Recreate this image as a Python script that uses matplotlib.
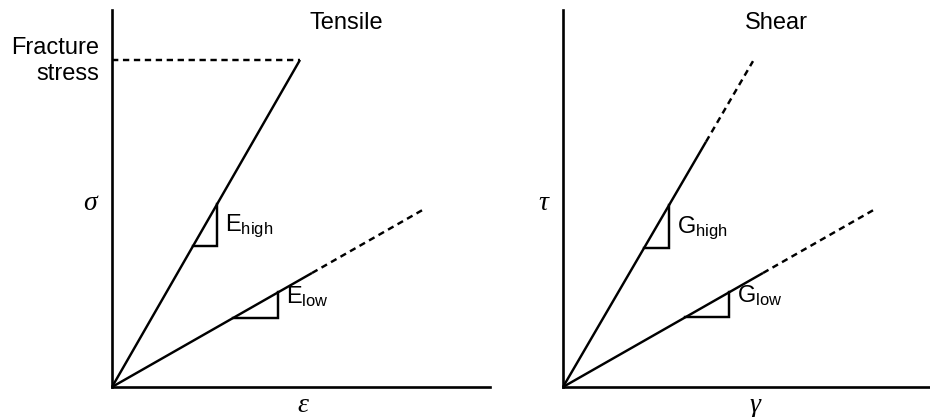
import matplotlib.pyplot as plt

plt.rcParams['font.family'] = ['Liberation Sans', 'DejaVu Sans']
plt.rcParams['mathtext.fontset'] = 'custom'
plt.rcParams['mathtext.rm'] = 'Liberation Sans'
plt.rcParams['mathtext.it'] = 'Liberation Sans:italic'

# moduli (slopes) for the two panels
tensile_moduli = [1.74, 0.57]
shear_moduli = [1.715, 0.57]

# strain where each line stops being solid, and where its dashed part ends
tensile_solid_end = [188, 200]
tensile_dash_end = [188, 310]
shear_solid_end = [143, 200]
shear_dash_end = [190, 310]

# slope triangles: strain range under each line
tensile_tri = [(81, 105), (121, 166)]
shear_tri = [(81, 106), (122, 166)]

fracture_strain = 188

W, H = 930, 417
fig = plt.figure(figsize=(W / 100, H / 100), dpi=100)

def make_axes(x0, x1, y0, y1):
    ax = fig.add_axes([x0 / W, (H - y0) / H, (x1 - x0) / W, (y0 - y1) / H])
    ax.set_xlim(0, x1 - x0)
    ax.set_ylim(0, y0 - y1)
    for s in ['top', 'right']:
        ax.spines[s].set_visible(False)
    for s in ['left', 'bottom']:
        ax.spines[s].set_linewidth(1.9)
    ax.set_xticks([])
    ax.set_yticks([])
    ax.patch.set_alpha(0)
    return ax

lw = 1.75
dash = (0, (2.6, 1.9))
fs = 17

def draw_panel(ax, moduli, solid_end, dash_end, tris, labels):
    for m, xs, xd, (ta, tb), lab in zip(moduli, solid_end, dash_end, tris, labels):
        ax.plot([0, xs], [0, m * xs], color='black', lw=lw, clip_on=False,
                solid_capstyle='butt')
        if xd > xs:
            ax.plot([xs, xd], [m * xs, m * xd], color='black', lw=lw,
                    linestyle=dash, clip_on=False)
        ax.plot([ta, tb, tb], [m * ta, m * ta, m * tb], color='black', lw=lw,
                clip_on=False, solid_joinstyle='miter')
        ax.text(tb + 8, m * ta + 15, lab, fontsize=fs, ha='left', va='baseline')

# Tensile panel
ax1 = make_axes(112, 490, 387, 10)
draw_panel(ax1, tensile_moduli, tensile_solid_end, tensile_dash_end, tensile_tri,
           [r'$\mathrm{E}_{\mathrm{high}}$', r'$\mathrm{E}_{\mathrm{low}}$'])
ax1.plot([0, fracture_strain], [tensile_moduli[0] * fracture_strain] * 2,
         color='black', lw=lw, linestyle=dash, clip_on=False)
ax1.text(234, 364, 'Tensile', fontsize=fs, ha='center', va='center')
ax1.text(-13, 326, 'Fracture\nstress', fontsize=fs, ha='right', va='center',
         linespacing=1.2)
ax1.text(-22, 183, 'σ', fontsize=20, ha='center', va='center',
         family='Liberation Serif', style='italic')
ax1.text(191, -18, 'ε', fontsize=20, ha='center', va='center',
         family='Liberation Serif', style='italic')

# Shear panel
ax2 = make_axes(563, 930, 387, 10)
draw_panel(ax2, shear_moduli, shear_solid_end, shear_dash_end, shear_tri,
           [r'$\mathrm{G}_{\mathrm{high}}$', r'$\mathrm{G}_{\mathrm{low}}$'])
ax2.text(213, 364, 'Shear', fontsize=fs, ha='center', va='center')
ax2.text(-20, 183, 'τ', fontsize=20, ha='center', va='center',
         family='Liberation Serif', style='italic')
ax2.text(192, -18, 'γ', fontsize=20, ha='center', va='center',
         family='Liberation Serif', style='italic')

fig.savefig('out.png', dpi=100)
